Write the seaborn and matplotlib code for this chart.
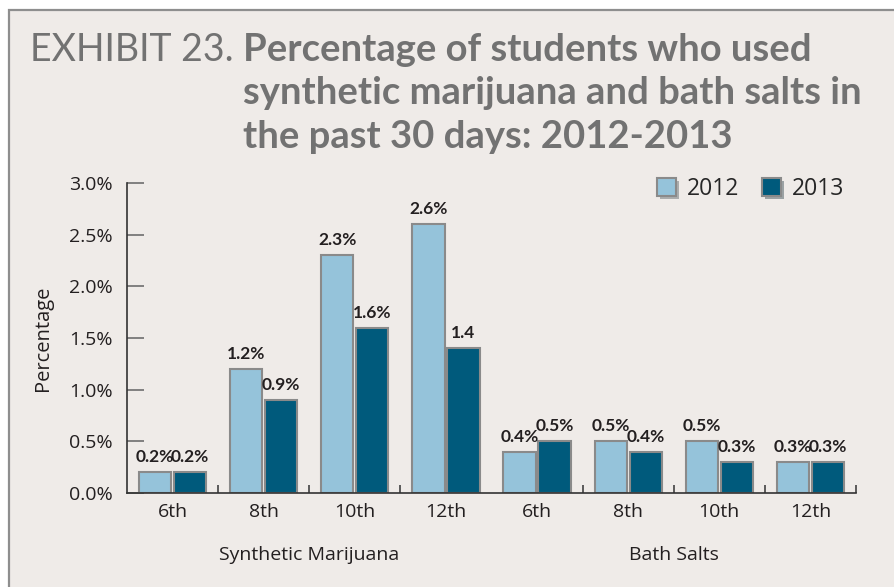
import matplotlib
matplotlib.use("Agg")
import matplotlib.pyplot as plt
import matplotlib.patheffects as pe
from matplotlib.patches import Rectangle
from matplotlib.ticker import FixedLocator, FuncFormatter
import pandas as pd
import seaborn as sns

# Survey results (percent of students, past 30 days)
substances = ["Synthetic Marijuana", "Bath Salts"]
grades = ["6th", "8th", "10th", "12th"]
years = ["2012", "2013"]
synthetic_2012 = [0.2, 1.2, 2.3, 2.6]
synthetic_2013 = [0.2, 0.9, 1.6, 1.4]
bath_2012 = [0.4, 0.5, 0.5, 0.3]
bath_2013 = [0.5, 0.4, 0.3, 0.3]
labels_2012 = ["0.2%", "1.2%", "2.3%", "2.6%", "0.4%", "0.5%", "0.5%", "0.3%"]
labels_2013 = ["0.2%", "0.9%", "1.6%", "1.4", "0.5%", "0.4%", "0.3%", "0.3%"]
y_ticks = [0.0, 0.5, 1.0, 1.5, 2.0, 2.5, 3.0]

rows = []
for substance, v12, v13 in [(substances[0], synthetic_2012, synthetic_2013),
                            (substances[1], bath_2012, bath_2013)]:
    for g, a, b in zip(grades, v12, v13):
        key = f"{substance} {g}"
        rows.append({"group": key, "year": years[0], "value": a})
        rows.append({"group": key, "year": years[1], "value": b})
df = pd.DataFrame(rows)
order = [f"{s} {g}" for s in substances for g in grades]

BG = "#efebe8"
LIGHT = "#95c3da"
DARK = "#005a7c"
TITLE_C = "#727272"
TEXT_C = "#231f20"

sns.set_theme(style="white")
plt.rcParams["font.family"] = ["Open Sans", "DejaVu Sans"]

fig = plt.figure(figsize=(8.94, 5.87), dpi=100, facecolor="white")
W, H = 894, 587
# framed panel behind everything
fig.patches.append(Rectangle((9 / W, -0.01), 1 - 9 / W + 0.01, 1 - 10 / H + 0.01,
                             transform=fig.transFigure, facecolor=BG,
                             edgecolor="#8e8e8e", linewidth=1.6, zorder=-10))

ax = fig.add_axes([127 / W, 1 - 493 / H, (856 - 127) / W, (493 - 183) / H])
ax.set_facecolor("none")
ax.set_zorder(1)

sns.barplot(data=df, x="group", y="value", hue="year", order=order,
            hue_order=years, palette=[LIGHT, DARK], saturation=1,
            width=0.77, gap=0.08, edgecolor="#8a8a8a", linewidth=1.5,
            ax=ax, legend=True)

for cont, labs in zip(ax.containers, [labels_2012, labels_2013]):
    ax.bar_label(cont, labels=labs, padding=5, fontsize=12.5,
                 fontweight="bold", color=TEXT_C, family=["Lato", "DejaVu Sans"])

ax.set_ylim(0, 3.0)
ax.set_xlim(-0.5, len(order) - 0.5)
ax.yaxis.set_major_locator(FixedLocator(y_ticks))
ax.yaxis.set_major_formatter(FuncFormatter(lambda v, p: f"{v:.1f}%"))
ax.tick_params(axis="y", direction="in", length=12, width=1.2, color="#6e6e6e",
               labelsize=14, labelcolor=TEXT_C, pad=10, left=True)
ax.set_xticks(range(len(order)))
ax.set_xticklabels(grades * 2)
ax.tick_params(axis="x", which="major", length=0, labelsize=14,
               labelcolor=TEXT_C, pad=7)
ax.set_xticks([0.5, 1.5, 2.5, 4.5, 5.5, 6.5, 7.5], minor=True)
ax.tick_params(axis="x", which="minor", direction="in", length=6,
               width=1.1, color="#333333", bottom=True)
ax.set_xlabel("")
ax.set_ylabel("Percentage", fontsize=14.5, color=TEXT_C, labelpad=12)
for s in ["top", "right"]:
    ax.spines[s].set_visible(False)
for s in ["left", "bottom"]:
    ax.spines[s].set_color("#333333")
    ax.spines[s].set_linewidth(1.2)

# substance labels under each block of grades
for i, s in enumerate(substances):
    ax.text(i * 4 + 1.5, -0.2, s, transform=ax.get_xaxis_transform(),
            ha="center", va="center", fontsize=14, color=TEXT_C)

leg = ax.legend(loc="upper right", bbox_to_anchor=(1.012, 1.085), ncol=2,
                frameon=False, fontsize=16.5, handlelength=0.85,
                handleheight=0.85, columnspacing=1.0, handletextpad=0.45)
for h in leg.legend_handles:
    h.set_edgecolor("#8a8a8a")
    h.set_linewidth(1.5)
    h.set_path_effects([pe.SimplePatchShadow(offset=(2, -2), alpha=0.35),
                        pe.Normal()])

# title block
fig.text(30 / W, 1 - 61 / H, "EXHIBIT 23.", fontsize=27, color=TITLE_C,
         family=["Lato", "DejaVu Sans"], fontweight="normal", va="baseline")
title_lines = ["Percentage of students who used",
               "synthetic marijuana and bath salts in",
               "the past 30 days: 2012-2013"]
for i, line in enumerate(title_lines):
    fig.text(243 / W, 1 - (61 + i * 43.5) / H, line, fontsize=27.5,
             color=TITLE_C, family=["Lato", "DejaVu Sans"],
             fontweight="bold", va="baseline")

fig.savefig("out.png", dpi=100, facecolor=fig.get_facecolor())
